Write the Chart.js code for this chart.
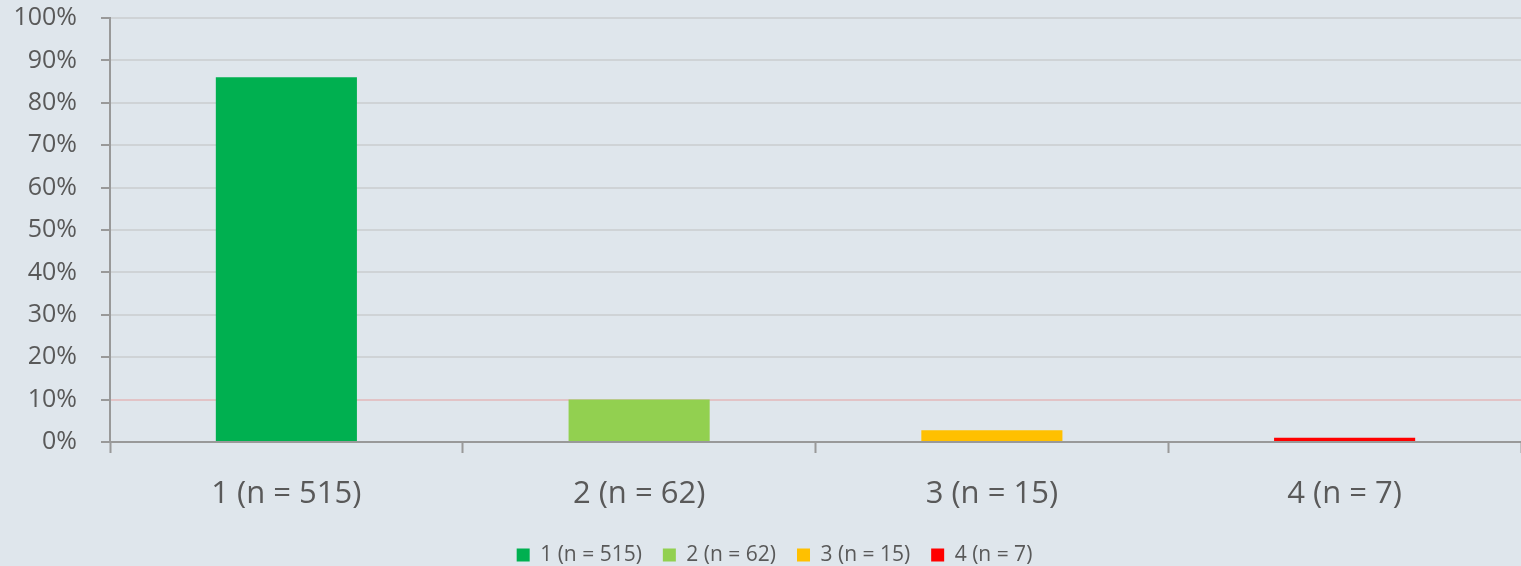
<!DOCTYPE html>
<html>
<head>
<meta charset="utf-8">
<script src="https://cdn.jsdelivr.net/npm/chart.js@4.4.1/dist/chart.umd.min.js"></script>
<style>
  html, body { margin: 0; padding: 0; background: #dfe6ec; overflow: hidden; }
  #wrap { width: 1521px; height: 566px; }
</style>
</head>
<body>
<div id="wrap"><canvas id="c" width="1521" height="566"></canvas></div>
<script>
const categories = ['1 (n = 515)', '2 (n = 62)', '3 (n = 15)', '4 (n = 7)'];
const seriesNames = ['1 (n = 515)', '2 (n = 62)', '3 (n = 15)', '4 (n = 7)'];
const values = [86, 10, 2.8, 1.0];
const colors = ['#00b050', '#92d050', '#ffc000', '#ff0000'];
const yTicks = [0, 10, 20, 30, 40, 50, 60, 70, 80, 90, 100];
const thresholdValue = 10;

const datasets = seriesNames.map((name, i) => ({
  label: name,
  data: categories.map((c, j) => (j === i ? values[i] : null)),
  backgroundColor: colors[i],
  borderWidth: 0,
  categoryPercentage: 1.0,
  barPercentage: 0.4
}));

const fontFam = '"Open Sans", "Noto Sans", sans-serif';
const LEGEND_FONT = 21, LEGEND_PAD = 21;
const CANVAS_H = 566, AXIS_Y = 442, LEGEND_CENTER = 555, LEGEND_DX = 14;

const legendShift = {
  id: 'legendShift',
  afterLayout(chart) {
    const lg = chart.legend;
    if (lg) {
      const h = lg.height;
      lg.top = LEGEND_CENTER - LEGEND_PAD - LEGEND_FONT / 2;
      lg.bottom = lg.top + h;
      lg.left += LEGEND_DX;
      lg.right += LEGEND_DX;
    }
  }
};

new Chart(document.getElementById('c'), {
  type: 'bar',
  data: { labels: categories, datasets },
  plugins: [legendShift],
  options: {
    responsive: false,
    animation: false,
    layout: { padding: { top: 18, right: 0, left: 0, bottom: 0 } },
    plugins: {
      legend: {
        position: 'bottom',
        labels: {
          boxWidth: 13, boxHeight: 13,
          color: '#595959',
          font: { family: fontFam, size: LEGEND_FONT },
          padding: LEGEND_PAD
        }
      },
      tooltip: { enabled: false }
    },
    scales: {
      x: {
        stacked: true,
        afterFit: (axis) => {
          const lgH = axis.chart.legend ? axis.chart.legend.height : 0;
          axis.height = CANVAS_H - lgH - AXIS_Y;
        },
        border: { color: '#999999', width: 2 },
        grid: { drawOnChartArea: false, drawTicks: true, tickLength: 11, tickColor: '#999999', tickWidth: 2, offset: true },
        ticks: { color: '#595959', font: { family: fontFam, size: 31 }, padding: 23 }
      },
      y: {
        stacked: true,
        min: 0, max: 100,
        afterBuildTicks: (axis) => { axis.ticks = yTicks.map(v => ({ value: v })); },
        afterFit: (axis) => { axis.width = 110; axis.paddingTop = 0; axis.paddingBottom = 0; },
        border: { color: '#999999', width: 2 },
        grid: {
          color: (ctx) => (ctx.tick && ctx.tick.value === thresholdValue ? '#e2c3c6' : '#cfd3d6'),
          lineWidth: 2,
          tickLength: 9, tickColor: '#999999', tickWidth: 2
        },
        ticks: {
          color: '#595959', font: { family: fontFam, size: 25 }, padding: 24,
          callback: (v) => v + '%'
        }
      }
    }
  }
});
</script>
</body>
</html>
